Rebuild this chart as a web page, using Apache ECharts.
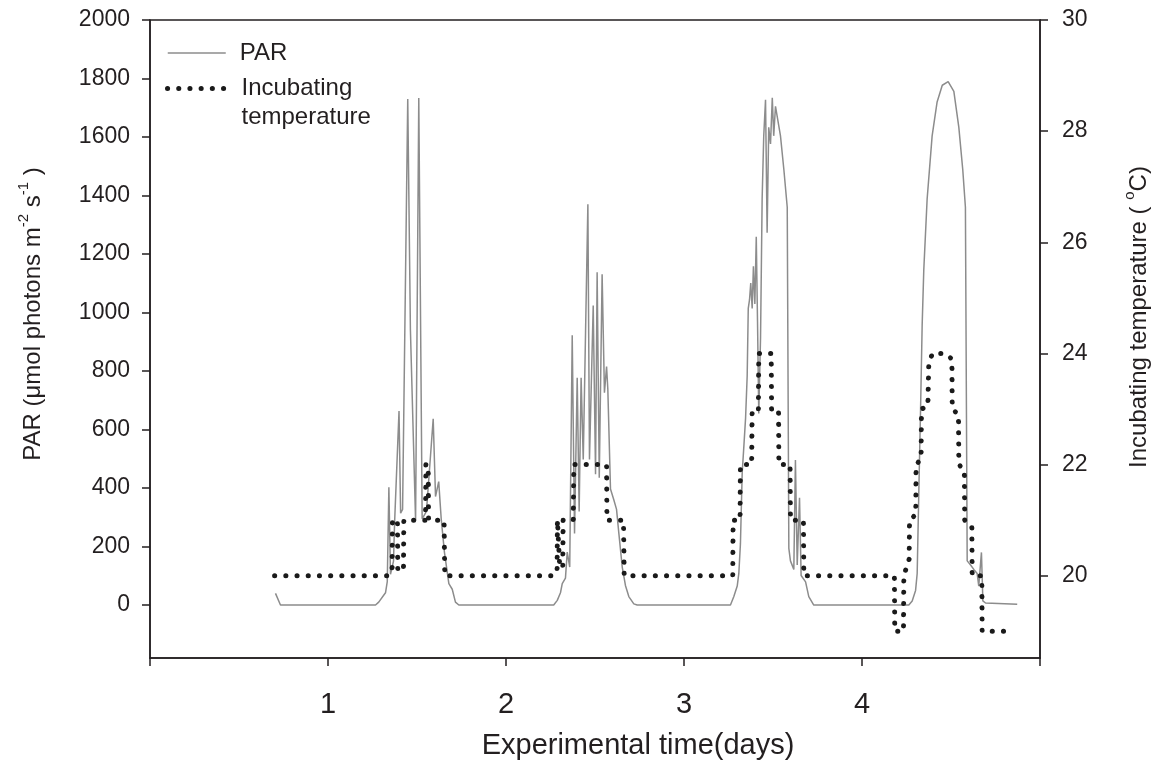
<!DOCTYPE html>
<html>
<head>
<meta charset="utf-8">
<script src="https://cdn.jsdelivr.net/npm/echarts@6/dist/echarts.min.js"></script>
<style>
  html, body { margin: 0; padding: 0; background: #fff; }
  #chart { width: 1160px; height: 767px; }
</style>
</head>
<body>
<div id="chart"></div>
<script>
// PAR readings (day, µmol photons m-2 s-1)
const parDays = [
  0.705, 0.733, 1.267, 1.285, 1.323, 1.333, 1.342, 1.351, 1.368, 1.374, 1.399, 1.408, 1.419, 1.448,
  1.463, 1.492, 1.510, 1.529, 1.553, 1.591, 1.604, 1.622, 1.636, 1.654, 1.679, 1.698, 1.716, 1.735,
  2.268, 2.288, 2.306, 2.316, 2.334, 2.344, 2.358, 2.372, 2.385, 2.400, 2.411, 2.422, 2.434, 2.447,
  2.460, 2.469, 2.490, 2.503, 2.512, 2.524, 2.540, 2.553, 2.565, 2.572, 2.587, 2.606, 2.621, 2.634,
  2.653, 2.671, 2.690, 2.718, 2.737,
  3.261, 3.280, 3.299, 3.308, 3.317, 3.327, 3.336, 3.346, 3.355, 3.361, 3.368, 3.375, 3.383, 3.390,
  3.398, 3.406, 3.413, 3.420, 3.430, 3.439, 3.448, 3.458, 3.467, 3.476, 3.486, 3.496, 3.504, 3.514,
  3.542, 3.561, 3.580, 3.589, 3.598, 3.617, 3.626, 3.636, 3.649, 3.658, 3.683, 3.701, 3.729,
  4.263, 4.282, 4.301, 4.310, 4.319, 4.329, 4.338, 4.347, 4.366, 4.394, 4.422, 4.451, 4.484, 4.516,
  4.544, 4.566, 4.581, 4.591, 4.610, 4.628, 4.647, 4.656, 4.671, 4.679, 4.694, 4.872
];
const parValues = [
  40, 0, 0, 10, 42, 80, 403, 105, 150, 280, 663, 314, 327, 1730,
  941, 289, 1733, 295, 320, 637, 371, 422, 295, 181, 73, 54, 10, 0,
  0, 16, 42, 73, 92, 181, 130, 922, 245, 777, 320, 777, 498, 935,
  1370, 498, 1024, 447, 1138, 435, 1131, 726, 815, 739, 397, 359, 327, 245,
  130, 67, 29, 4, 0,
  0, 29, 65, 108, 209, 453, 540, 640, 784, 1014, 1043, 1101, 1014, 1158,
  1029, 1259, 971, 655, 914, 1389, 1604, 1727, 1273, 1633, 1576, 1734, 1604, 1705,
  1604, 1489, 1360, 194, 151, 122, 496, 137, 367, 101, 79, 29, 0,
  0, 14, 50, 108, 381, 669, 957, 1144, 1389, 1604, 1720, 1777, 1789, 1756,
  1633, 1489, 1360, 151, 137, 122, 108, 65, 180, 14, 7, 3
];

// incubating temperature (day, °C)
const tempDays = [
  0.700, 1.342, 1.360, 1.362, 1.390, 1.392, 1.424, 1.426, 1.548, 1.550, 1.563, 1.565, 1.652, 1.656,
  2.268, 2.287, 2.289, 2.300, 2.302, 2.319, 2.321, 2.378, 2.381, 2.565, 2.567, 2.660, 2.664,
  3.274, 3.276, 3.315, 3.317, 3.380, 3.383, 3.418, 3.420, 3.490, 3.492, 3.531, 3.533, 3.596, 3.598, 3.671, 3.673,
  4.182, 4.184, 4.233, 4.235, 4.265, 4.267, 4.302, 4.304, 4.332, 4.334, 4.370, 4.375, 4.395, 4.465,
  4.505, 4.507, 4.542, 4.544, 4.575, 4.577, 4.617, 4.619, 4.673, 4.675, 4.825
];
const tempValues = [
  20, 20, 20.1, 21, 21, 20.1, 20.1, 21, 21, 22, 22, 21, 21, 20,
  20, 20.1, 21, 21, 20.15, 20.15, 21, 21, 22, 22, 21, 21, 20,
  20, 21, 21, 22, 22, 23, 23, 24, 24, 23, 23, 22, 22, 21, 21, 20,
  20, 19, 19, 20, 20.3, 21, 21.1, 22, 22.1, 23, 23.05, 23.8, 24, 24,
  23.9, 23, 22.9, 22, 21.9, 21, 20.9, 20, 20, 19, 19
];

// ticks
const dayTicks = [0, 1, 2, 3, 4, 5];
const dayLabels = [1, 2, 3, 4];
const parTicks = [0, 200, 400, 600, 800, 1000, 1200, 1400, 1600, 1800, 2000];
const tempTicks = [20, 22, 24, 26, 28, 30];

const ink = "#231f20";
const font = "'Liberation Sans', Arial, sans-serif";

const chart = echarts.init(document.getElementById("chart"), null, { renderer: "canvas" });

const nameRich = {
  a: { fontSize: 24, lineHeight: 34, color: ink, fontFamily: font },
  s: { fontSize: 15, lineHeight: 14, verticalAlign: "top", color: ink, fontFamily: font },
};

chart.setOption({
  animation: false,
  backgroundColor: "#fff",
  textStyle: { fontFamily: font, color: ink },
  grid: { left: 150, right: 120, top: 20, bottom: 109, show: true, borderColor: ink, borderWidth: 1.5 },
  legend: [
    {
      data: ["PAR"],
      left: 167, top: 41, padding: 0, orient: "vertical",
      itemWidth: 58, itemHeight: 20, selectedMode: false,
      lineStyle: { width: 1.5 },
      itemStyle: { opacity: 0 },
      textStyle: { fontSize: 24, color: ink, fontFamily: font, padding: [0, 0, 0, 9] },
    },
    {
      data: ["Incubating temperature"],
      formatter: () => "\nIncubating\ntemperature",
      left: 165, top: 45, padding: 0, orient: "vertical",
      itemWidth: 60, itemHeight: 20, selectedMode: false,
      lineStyle: { width: 5, type: [0.1, 11.1], cap: "round" },
      itemStyle: { opacity: 0 },
      textStyle: { fontSize: 24, lineHeight: 29, color: ink, fontFamily: font, padding: [0, 0, 0, 9] },
    },
  ],
  xAxis: {
    type: "value", min: 0, max: 5,
    axisLine: { onZero: false, lineStyle: { color: ink, width: 1.5 } },
    axisTick: { customValues: dayTicks, length: 8, lineStyle: { color: ink, width: 1.5 } },
    axisLabel: { customValues: dayLabels, fontSize: 29, margin: 32, color: ink, fontFamily: font },
    splitLine: { show: false },
    name: "Experimental time(days)",
    nameLocation: "middle", nameGap: 73,
    nameTextStyle: { fontSize: 29, color: ink, fontFamily: font, padding: [0, 0, 0, 86] },
  },
  yAxis: [
    {
      type: "value", min: -181, max: 2000, position: "left",
      axisLine: { show: true, onZero: false, lineStyle: { color: ink, width: 1.5 } },
      axisTick: { show: true, customValues: parTicks, length: 8, lineStyle: { color: ink, width: 1.5 } },
      axisLabel: {
        customValues: parTicks, fontSize: 23, margin: 20, color: ink, fontFamily: font,
        formatter: (v) => String(v),
      },
      splitLine: { show: false },
      name: "{a|PAR (\u03bcmol photons m}{s|-2}{a| s}{s|-1}{a| )}",
      nameLocation: "middle", nameGap: 100,
      nameTextStyle: { color: ink, fontFamily: font, padding: [0, 0, 0, 50], rich: nameRich },
    },
    {
      type: "value", min: 18.52, max: 30, position: "right",
      axisLine: { show: true, onZero: false, lineStyle: { color: ink, width: 1.5 } },
      axisTick: { show: true, customValues: tempTicks, length: 8, lineStyle: { color: ink, width: 1.5 } },
      axisLabel: {
        customValues: tempTicks, fontSize: 23, margin: 22, color: ink, fontFamily: font,
        formatter: (v) => String(v),
      },
      splitLine: { show: false },
      name: "{a|Incubating temperature ( }{s|o}{a|C)}",
      nameLocation: "middle", nameGap: 82,
      nameTextStyle: { color: ink, fontFamily: font, padding: [0, 0, 0, 44], rich: nameRich },
    },
  ],
  series: [
    {
      name: "PAR", type: "line", yAxisIndex: 0,
      data: parDays.map((d, i) => [d, parValues[i]]),
      symbol: "none", z: 2,
      lineStyle: { color: "#8c8c8c", width: 1.5 },
      itemStyle: { color: "#8c8c8c" },
    },
    {
      name: "Incubating temperature", type: "line", yAxisIndex: 1,
      data: tempDays.map((d, i) => [d, tempValues[i]]),
      symbol: "none", z: 3,
      lineStyle: { color: "#1a1a1a", width: 5, type: [0.1, 11.1], cap: "round" },
      itemStyle: { color: "#1a1a1a" },
    },
  ],
});
</script>
</body>
</html>
